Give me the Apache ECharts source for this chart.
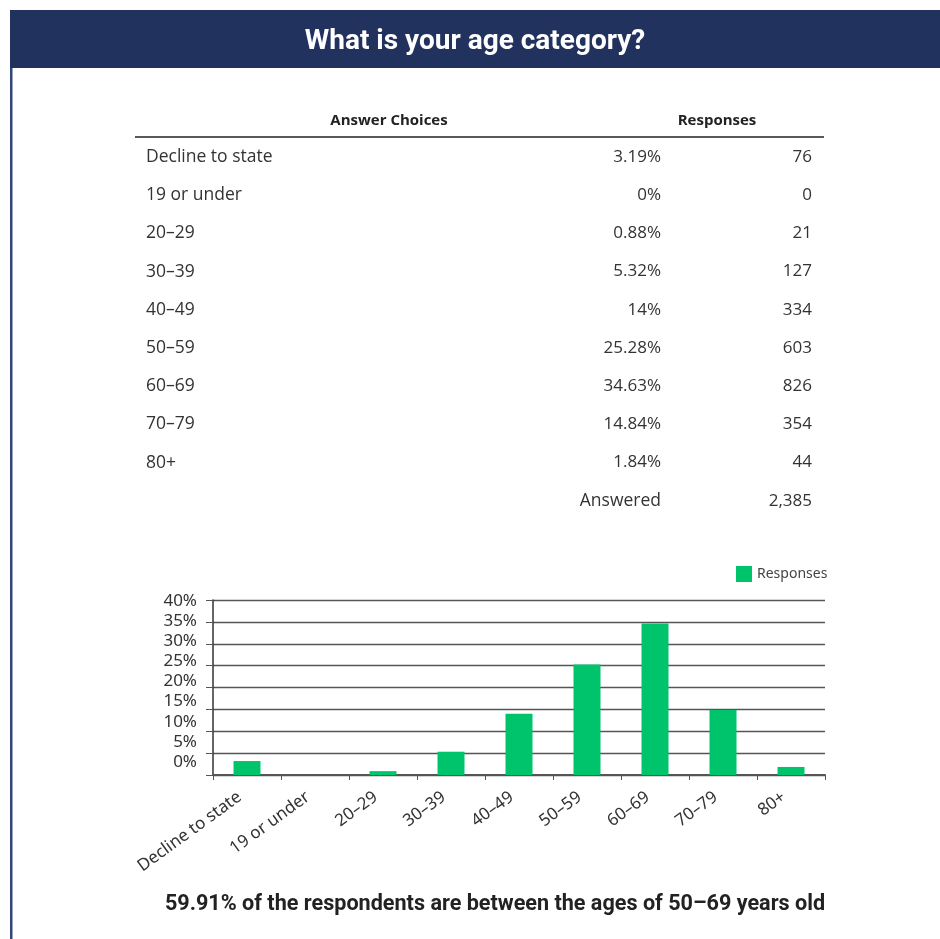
<!DOCTYPE html>
<html><head><meta charset="utf-8">
<script src="https://cdn.jsdelivr.net/npm/echarts@6/dist/echarts.min.js"></script>
<style>html,body{margin:0;padding:0;background:#fff}#c{width:940px;height:939px}</style>
</head><body><div id="c"></div>
<script>
const categories = ['Decline to state','19 or under','20–29','30–39','40–49','50–59','60–69','70–79','80+'];
const percents = [3.19, 0, 0.88, 5.32, 14, 25.28, 34.63, 14.84, 1.84];
const counts = [76, 0, 21, 127, 334, 603, 826, 354, 44];
const answeredTotal = 2385;
const yTicks = [0, 5, 10, 15, 20, 25, 30, 35, 40];
const titleText = 'What is your age category?';
const footerText = '59.91% of the respondents are between the ages of 50–69 years old';
const seriesName = 'Responses';

const chart = echarts.init(document.getElementById('c'), null, {renderer:'canvas'});
const navy = '#22325f';
const green = '#00c46c';
const tf = '"Open Sans",sans-serif';

const g = [];
g.push({type:'rect', shape:{x:10,y:10,width:930,height:58}, style:{fill:navy}});
g.push({type:'rect', shape:{x:10,y:68,width:2.5,height:871}, style:{fill:'#33477a'}});
g.push({type:'text', x:475, y:42, style:{text:titleText, fill:'#fff', font:'bold 28px Roboto, sans-serif', textAlign:'center', textVerticalAlign:'middle'}});
// table header
g.push({type:'text', x:389, y:121, style:{text:'Answer Choices', fill:'#222', font:'bold 15px '+tf, textAlign:'center', textVerticalAlign:'middle'}});
g.push({type:'text', x:717, y:121, style:{text:'Responses', fill:'#222', font:'bold 15px '+tf, textAlign:'center', textVerticalAlign:'middle'}});
g.push({type:'line', shape:{x1:135,y1:137,x2:824,y2:137}, style:{stroke:'#222', lineWidth:1.3}});
const rowY0 = 157, rowH = 38.2;
categories.forEach((c,i)=>{
  const y = rowY0 + i*rowH;
  g.push({type:'text', x:146, y:y, style:{text:c, fill:'#333', font:'17.5px '+tf, textVerticalAlign:'middle'}});
  g.push({type:'text', x:661, y:y, style:{text:percents[i]+'%', fill:'#333', font:'17px '+tf, textAlign:'right', textVerticalAlign:'middle'}});
  g.push({type:'text', x:812, y:y, style:{text:String(counts[i]), fill:'#333', font:'17px '+tf, textAlign:'right', textVerticalAlign:'middle'}});
});
const ay = rowY0 + categories.length*rowH;
g.push({type:'text', x:661, y:ay, style:{text:'Answered', fill:'#333', font:'17.5px '+tf, textAlign:'right', textVerticalAlign:'middle'}});
g.push({type:'text', x:812, y:ay, style:{text:answeredTotal.toLocaleString('en-US'), fill:'#333', font:'17px '+tf, textAlign:'right', textVerticalAlign:'middle'}});
g.push({type:'text', x:495, y:905, style:{text:footerText, fill:'#222', font:'bold 21.6px Roboto, sans-serif', textAlign:'center', textVerticalAlign:'middle'}});

chart.setOption({
  animation:false,
  graphic:g,
  legend:{data:[seriesName], left:731, top:561, itemWidth:16, itemHeight:16, itemGap:5, icon:'rect',
    textStyle:{fontSize:14, color:'#444', fontFamily:'"Noto Sans",sans-serif'}},
  grid:[
    {left:213, right:115, top:600, height:175},
    {left:213, right:115, top:601, height:161}
  ],
  xAxis:[
    {type:'category', gridIndex:0, data:categories,
      axisLine:{lineStyle:{color:'#555', width:2}},
      axisTick:{show:true, length:5, lineStyle:{color:'#555'}},
      axisLabel:{rotate:36, margin:15, padding:[0,9,0,0], fontSize:17, color:'#333', fontFamily:'"Noto Sans",sans-serif', interval:0}},
    {type:'category', gridIndex:1, data:categories, show:false}
  ],
  yAxis:[
    {type:'value', gridIndex:0, min:0, max:40, interval:5,
      axisLine:{show:true, lineStyle:{color:'#333', width:1.5}},
      axisTick:{show:true, length:7, lineStyle:{color:'#555'}},
      axisLabel:{show:false},
      splitLine:{lineStyle:{color:'#555', width:1.3}}},
    {type:'value', gridIndex:1, min:0, max:40, interval:5,
      axisLine:{show:false}, axisTick:{show:false}, splitLine:{show:false},
      axisLabel:{margin:16, fontSize:17, color:'#333', fontFamily:'"Noto Sans",sans-serif', formatter:v=>v+'%',
        customValues: yTicks}}
  ],
  series:[{name:seriesName, type:'bar', xAxisIndex:0, yAxisIndex:0, data:percents, barWidth:27,
    itemStyle:{color:green}}]
});
</script></body></html>
